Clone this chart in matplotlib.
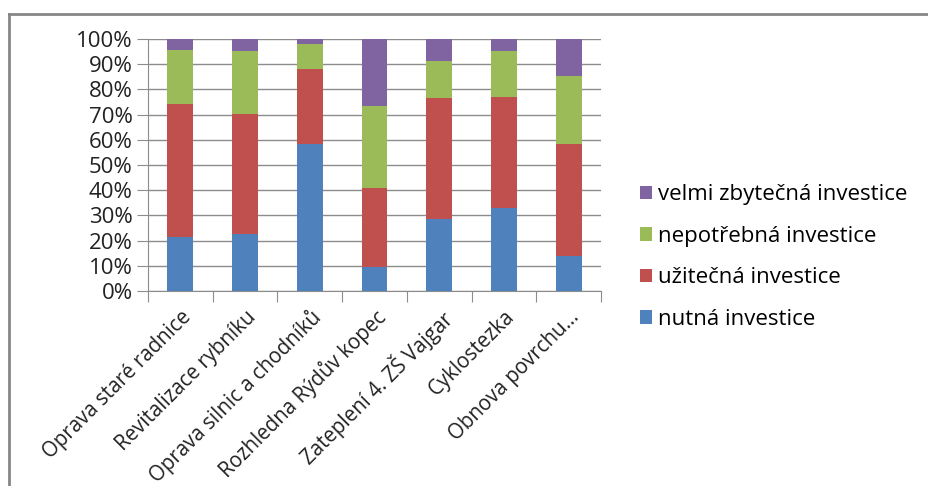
import numpy as np
import matplotlib.pyplot as plt
from matplotlib.lines import Line2D
from matplotlib.ticker import PercentFormatter

# -----------------------------
# DATA (shares in %)
# -----------------------------
categories = [
    "Oprava staré radnice",
    "Revitalizace rybníku",
    "Oprava silnic a chodníků",
    "Rozhledna Rýdův kopec",
    "Zateplení 4. ZŠ Vajgar",
    "Cyklostezka",
    "Obnova povrchu…",
]
nutna = [21.3, 22.8, 58.4, 9.4, 28.4, 33.1, 13.8]
uzitecna = [53.0, 47.3, 29.7, 31.4, 48.0, 43.9, 44.6]
nepotrebna = [21.4, 25.1, 9.9, 32.6, 15.0, 18.4, 27.0]
zbytecna = [4.3, 4.8, 2.0, 26.6, 8.6, 4.6, 14.6]

series_names = [
    "nutná investice",
    "užitečná investice",
    "nepotřebná investice",
    "velmi zbytečná investice",
]
colors = ["#4F81BD", "#C0504D", "#9BBB59", "#8064A2"]

plt.rcParams["font.family"] = ["Open Sans", "DejaVu Sans"]
FS = 16

fig = plt.figure(figsize=(9.29, 4.86), dpi=100)
ax = fig.add_axes([148 / 929, 1 - 291 / 486, 453 / 929, 252 / 486])

x = np.arange(len(categories))
bottom = np.zeros(len(categories))
handles = []
for vals, name, col in zip([nutna, uzitecna, nepotrebna, zbytecna], series_names, colors):
    b = ax.bar(x, vals, bottom=bottom, width=0.4, color=col, label=name, zorder=3)
    handles.append(b)
    bottom += np.array(vals)

ax.set_xlim(-0.5, len(categories) - 0.5)
ax.set_ylim(0, 100)
ax.set_yticks(np.arange(0, 101, 10))
ax.yaxis.set_major_formatter(PercentFormatter(decimals=0))
ax.grid(axis="y", color="#8c8c8c", linewidth=1.0, zorder=0)

# category ticks between bars
ax.set_xticks(np.arange(-0.5, len(categories), 1.0))
ax.set_xticklabels([])
ax.set_xticks(x, minor=True)
ax.set_xticklabels(categories, minor=True, rotation=45, ha="right",
                   rotation_mode="anchor", fontsize=14.8, color="#222222")
ax.tick_params(axis="x", which="minor", length=0, pad=11)
ax.tick_params(axis="x", which="major", length=8, color="#8c8c8c")
ax.tick_params(axis="y", length=8, color="#8c8c8c", labelsize=FS,
               labelcolor="#222222", pad=3)

for s in ["top", "right"]:
    ax.spines[s].set_visible(False)
for s in ["left", "bottom"]:
    ax.spines[s].set_color("#8c8c8c")

ax.legend(handles[::-1], series_names[::-1], loc="center left",
          bbox_to_anchor=(640 / 929, 1 - 257 / 486), bbox_transform=fig.transFigure,
          frameon=False, fontsize=FS, handlelength=0.55, handleheight=0.55,
          handletextpad=0.25, labelspacing=0.92, borderaxespad=0, borderpad=0)

# chart area border (clipped at right and bottom)
fig.add_artist(Line2D([8.5 / 929, 1.0], [1 - 14 / 486, 1 - 14 / 486],
                      transform=fig.transFigure, color="#868686", lw=2))
fig.add_artist(Line2D([8.5 / 929, 8.5 / 929], [0, 1 - 14 / 486],
                      transform=fig.transFigure, color="#868686", lw=2))

fig.savefig("out.png", dpi=100)
